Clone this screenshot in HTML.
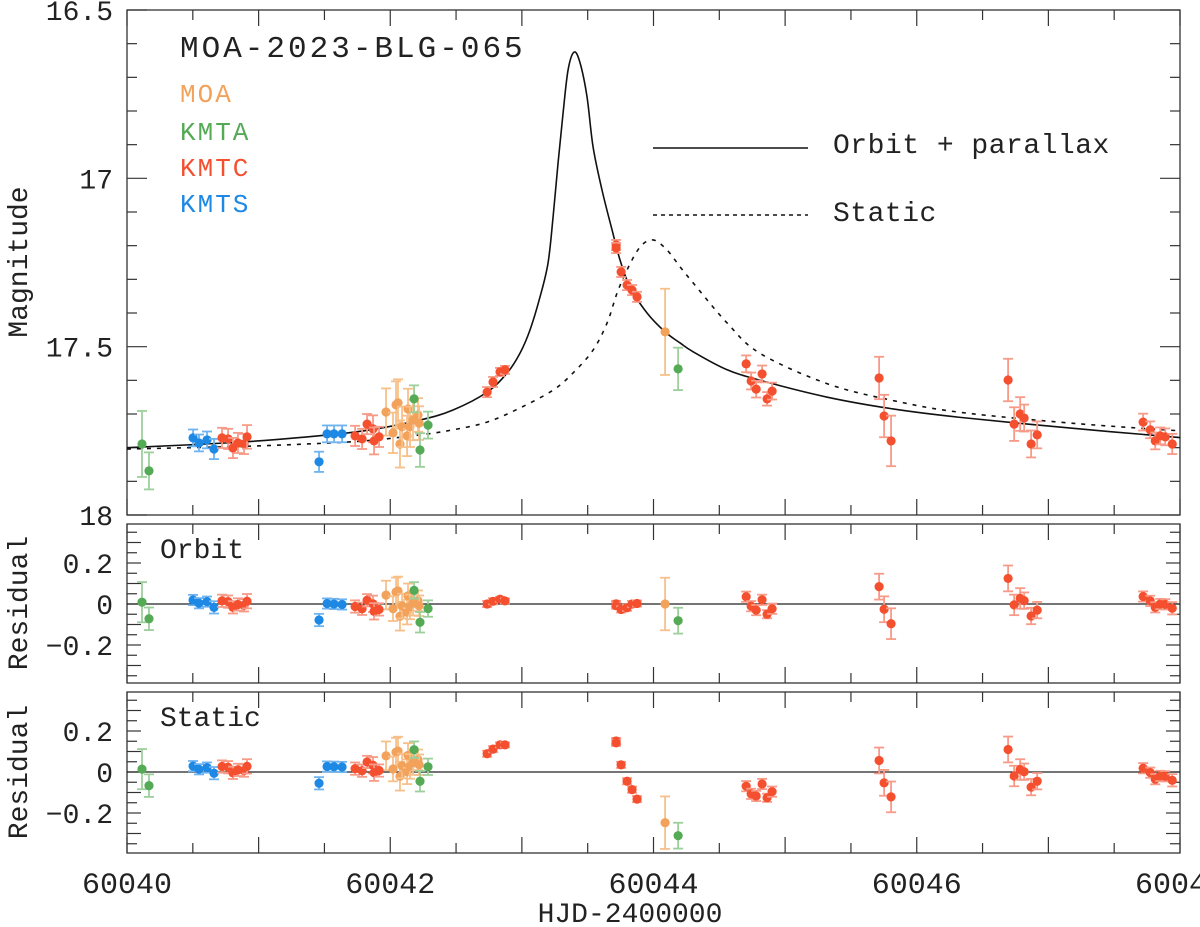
<!DOCTYPE html>
<html><head><meta charset="utf-8"><style>
body{margin:0;background:#fff}
svg{display:block}
text{font-family:"Liberation Mono","DejaVu Sans Mono",monospace;fill:#222}
</style></head><body>
<svg id="chart" width="1200" height="927" viewBox="0 0 1200 927" xmlns="http://www.w3.org/2000/svg"></svg>
<script>
// ---- data ----
const orbitT=[40.00,40.80,41.31,41.80,42.226,42.477,42.736,42.888,42.986,43.062,43.138,43.199,43.237,43.275,43.313,43.351,43.397,43.442,43.495,43.541,43.609,43.685,43.746,43.822,43.951,44.088,44.202,44.30,44.55,44.81,45.32,45.82,46.33,47.20,48.00];
const orbitM=[17.80,17.785,17.77,17.75,17.718,17.688,17.635,17.578,17.519,17.450,17.352,17.251,17.115,16.954,16.806,16.678,16.625,16.657,16.758,16.907,17.035,17.153,17.243,17.323,17.400,17.456,17.489,17.515,17.567,17.60,17.65,17.685,17.71,17.743,17.77];
const staticT=[40.00,40.80,41.31,41.80,42.226,42.477,42.736,42.986,43.237,43.389,43.541,43.647,43.723,43.799,43.898,43.997,44.103,44.202,44.30,44.56,44.81,45.32,45.82,46.33,47.20,48.00];
const staticM=[17.804,17.797,17.79,17.78,17.762,17.747,17.724,17.682,17.629,17.578,17.510,17.430,17.341,17.272,17.204,17.183,17.213,17.263,17.31,17.43,17.52,17.61,17.66,17.695,17.728,17.75];

const moaT=[41.968,42.044,42.059,42.021,42.074,42.090,42.128,42.135,42.150,42.173,42.211,42.219,44.088];
const moaM=[17.694,17.673,17.667,17.756,17.789,17.738,17.765,17.685,17.738,17.718,17.703,17.727,17.456];
const moaE=[0.07,0.07,0.07,0.06,0.07,0.06,0.06,0.06,0.06,0.06,0.05,0.05,0.128];

const kmtaT=[40.114,40.167,42.181,42.226,42.287,44.187];
const kmtaM=[17.789,17.869,17.655,17.807,17.733,17.566];
const kmtaE=[0.098,0.055,0.04,0.05,0.04,0.063];

const kmtcT=[40.722,40.768,40.805,40.843,40.889,40.912,41.733,41.786,41.824,41.869,41.877,41.915,42.736,42.781,42.834,42.872,43.716,43.716,43.754,43.799,43.837,43.875,44.704,44.742,44.780,44.825,44.863,44.901,45.714,45.752,45.805,46.694,46.740,46.786,46.816,46.869,46.915,47.720,47.774,47.812,47.850,47.888,47.941];
const kmtcM=[17.771,17.774,17.801,17.786,17.789,17.768,17.765,17.774,17.730,17.744,17.780,17.768,17.635,17.605,17.575,17.569,17.198,17.207,17.278,17.317,17.332,17.352,17.551,17.602,17.626,17.581,17.655,17.632,17.593,17.706,17.780,17.599,17.730,17.700,17.712,17.789,17.762,17.724,17.747,17.780,17.765,17.768,17.789];
const kmtcE=[0.03,0.03,0.03,0.03,0.03,0.035,0.03,0.03,0.03,0.04,0.04,0.03,0.015,0.015,0.012,0.012,0.015,0.015,0.015,0.015,0.015,0.015,0.025,0.025,0.025,0.025,0.02,0.025,0.063,0.063,0.075,0.063,0.05,0.05,0.04,0.04,0.04,0.025,0.025,0.025,0.025,0.025,0.03];

const kmtsT=[40.502,40.547,40.608,40.661,41.459,41.520,41.573,41.634];
const kmtsM=[17.771,17.786,17.777,17.804,17.842,17.759,17.759,17.759];
const kmtsE=[0.025,0.025,0.025,0.03,0.03,0.025,0.025,0.025];

const xTickLabels=["60040","60042","60044","60046","60048"];
const magTickLabels=["16.5","17","17.5","18"];
const resTickLabels=["0.2","0","\u22120.2"];

// ---- layout ----
const X0=127,X1=1180;
const P={top:10,bot:515};
const R1={top:524,bot:683,zero:604};
const R2={top:692,bot:853,zero:772};
const sx=t=>X0+(t-40)*(X1-X0)/8;
const sy=m=>P.top+(m-16.5)*(P.bot-P.top)/1.5;
const rScale=205;
const sr=(R,v)=>R.zero-v*rScale;
const svg=document.getElementById('chart');
const NS='http://www.w3.org/2000/svg';
function mk(tag,attrs,parent){const e=document.createElementNS(NS,tag);for(const k in attrs)e.setAttribute(k,attrs[k]);(parent||svg).appendChild(e);return e;}
function interp(T,M,t){if(t<=T[0])return M[0];for(let i=1;i<T.length;i++){if(t<=T[i]){const f=(t-T[i-1])/(T[i]-T[i-1]);return M[i-1]+f*(M[i]-M[i-1]);}}return M[M.length-1];}
function smoothPath(T,M,fy){
  const pts=T.map((t,i)=>[sx(t),fy(M[i])]);
  let d='M'+pts[0][0]+','+pts[0][1];
  for(let i=0;i<pts.length-1;i++){
    const p0=pts[Math.max(0,i-1)],p1=pts[i],p2=pts[i+1],p3=pts[Math.min(pts.length-1,i+2)];
    const c1=[p1[0]+(p2[0]-p0[0])/6,p1[1]+(p2[1]-p0[1])/6];
    const c2=[p2[0]-(p3[0]-p1[0])/6,p2[1]-(p3[1]-p1[1])/6];
    d+=` C${c1[0]},${c1[1]} ${c2[0]},${c2[1]} ${p2[0]},${p2[1]}`;
  }
  return d;
}
// ---- frames & ticks ----
function frame(top,bot,name){
  const r=mk('rect',{x:X0,y:top,width:X1-X0,height:bot-top,fill:'none',stroke:'#333','stroke-width':1.3});
  
  
  for(let t=40;t<=48.001;t+=0.5){
    const x=sx(t);const L=(Math.abs(t-Math.round(t))<0.01)?16:10;
    mk('line',{x1:x,y1:bot,x2:x,y2:bot-L,stroke:'#333','stroke-width':1.2});
    mk('line',{x1:x,y1:top,x2:x,y2:top+L,stroke:'#333','stroke-width':1.2});
  }
}
frame(P.top,P.bot,'magnitude-panel');
frame(R1.top,R1.bot,'orbit-residual-panel');
frame(R2.top,R2.bot,'static-residual-panel');
for(let m=16.5;m<=18.001;m+=0.1){
  const y=sy(m);const major=Math.abs(m*2-Math.round(m*2))<0.01;const L=major?20:10;
  mk('line',{x1:X0,y1:y,x2:X0+L,y2:y,stroke:'#333','stroke-width':1.2});
  mk('line',{x1:X1,y1:y,x2:X1-L,y2:y,stroke:'#333','stroke-width':1.2});
}
magTickLabels.forEach((s,i)=>{
  const t=mk('text',{x:X0-14,y:sy(parseFloat(s))+10,'font-size':28,'text-anchor':'end'});
  t.textContent=s;
  
  
});
[R1,R2].forEach(R=>{
  for(let v=-0.35;v<=0.351;v+=0.05){
    const y=sr(R,v);const L=Math.abs(v*10-Math.round(v*10))<0.01?14:10;
    mk('line',{x1:X0,y1:y,x2:X0+L,y2:y,stroke:'#333','stroke-width':1.2});
    mk('line',{x1:X1,y1:y,x2:X1-L,y2:y,stroke:'#333','stroke-width':1.2});
  }
  mk('line',{x1:X0,y1:R.zero,x2:X1,y2:R.zero,stroke:'#222','stroke-width':1.2});
  resTickLabels.forEach(s=>{
    const v=parseFloat(s.replace('\u2212','-'));
    const t=mk('text',{x:X0-14,y:sr(R,v)+10,'font-size':28,'text-anchor':'end'});
    t.textContent=s;
    
    
  });
});
xTickLabels.forEach(s=>{
  const t=mk('text',{x:sx(parseFloat(s)-60000),y:893,'font-size':30,'text-anchor':'middle'});
  t.textContent=s;
  
  
});
// ---- models ----
const clip=mk('clipPath',{id:'pc'});mk('rect',{x:X0,y:P.top,width:X1-X0,height:P.bot-P.top},clip);
const op=mk('path',{d:smoothPath(orbitT,orbitM,sy),fill:'none',stroke:'#111','stroke-width':1.6,'clip-path':'url(#pc)'});


const sp=mk('path',{d:smoothPath(staticT,staticM,sy),fill:'none',stroke:'#111','stroke-width':1.6,'stroke-dasharray':'4,6','clip-path':'url(#pc)'});


// ---- data points ----
const sets=[
  {n:'moa',T:moaT,M:moaM,E:moaE,c:'#f2a25a',e:'#f7c08a'},
  {n:'kmta',T:kmtaT,M:kmtaM,E:kmtaE,c:'#55aa55',e:'#9ccf9c'},
  {n:'kmts',T:kmtsT,M:kmtsM,E:kmtsE,c:'#1e88e5',e:'#6fb3f0'},
  {n:'kmtc',T:kmtcT,M:kmtcM,E:kmtcE,c:'#f4502f',e:'#f79a88'}
];
function point(x,y,eTop,eBot,s,name){
  const g=mk('g',{});
  
  
  mk('line',{x1:x,y1:eTop,x2:x,y2:eBot,stroke:s.e,'stroke-width':1.8},g);
  mk('line',{x1:x-5,y1:eTop,x2:x+5,y2:eTop,stroke:s.e,'stroke-width':1.8},g);
  mk('line',{x1:x-5,y1:eBot,x2:x+5,y2:eBot,stroke:s.e,'stroke-width':1.8},g);
  mk('circle',{cx:x,cy:y,r:4.6,fill:s.c},g);
}
sets.forEach(s=>{
  s.T.forEach((t,i)=>{
    const x=sx(t),m=s.M[i],e=s.E[i];
    point(x,sy(m),sy(m-e),sy(m+e),s,s.n+'-point');
    const ro=interp(orbitT,orbitM,t)-m;
    point(x,sr(R1,ro),sr(R1,ro+e),sr(R1,ro-e),s,s.n+'-orbit-residual');
    const rs=interp(staticT,staticM,t)-m;
    point(x,sr(R2,rs),sr(R2,rs+e),sr(R2,rs-e),s,s.n+'-static-residual');
  });
});
// ---- labels ----
function txt(x,y,s,size,name,fill,extra){
  const t=mk('text',Object.assign({x:x,y:y,'font-size':size},extra||{}));
  if(fill)t.setAttribute('style','fill:'+fill);
  t.textContent=s;
  
  
  return t;
}
txt(180,57,'MOA-2023-BLG-065',31,'event-title',null,{'letter-spacing':3});
txt(180,102,'MOA',26,'legend-moa','#f2a25a',{'letter-spacing':2});
txt(180,140,'KMTA',26,'legend-kmta','#55aa55',{'letter-spacing':2});
txt(180,176,'KMTC',26,'legend-kmtc','#f4502f',{'letter-spacing':2});
txt(180,212,'KMTS',26,'legend-kmts','#1e88e5',{'letter-spacing':2});
mk('line',{x1:653,y1:148,x2:808,y2:148,stroke:'#111','stroke-width':1.6});
mk('line',{x1:653,y1:215,x2:808,y2:215,stroke:'#111','stroke-width':1.6,'stroke-dasharray':'4,4'});
txt(833,153,'Orbit + parallax',28,'legend-orbit-parallax',null,{'letter-spacing':0.5});
txt(833,221,'Static',28,'legend-static',null,{'letter-spacing':0.5});
txt(160,558,'Orbit',28,'orbit-panel-label');
txt(160,726,'Static',28,'static-panel-label');
txt(630,922,'HJD-2400000',28,'x-axis-title',null,{'text-anchor':'middle'});
txt(0,0,'Magnitude',28,'y-axis-title',null,{'text-anchor':'middle',transform:'translate(27,262) rotate(-90)'});
txt(0,0,'Residual',28,'orbit-residual-axis-title',null,{'text-anchor':'middle',transform:'translate(27,603) rotate(-90)'});
txt(0,0,'Residual',28,'static-residual-axis-title',null,{'text-anchor':'middle',transform:'translate(27,772) rotate(-90)'});
</script>
</body></html>
